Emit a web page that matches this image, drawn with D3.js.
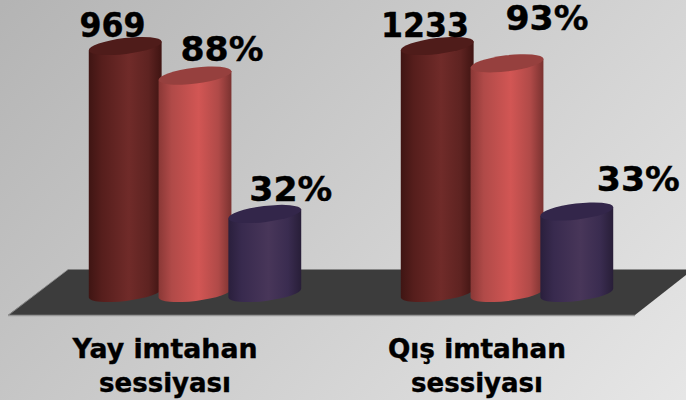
<!DOCTYPE html>
<html><head><meta charset="utf-8">
<script src="https://cdn.jsdelivr.net/npm/d3@7"></script>
<style>html,body{margin:0;padding:0;background:#ccc}svg{display:block}</style>
</head><body><svg id="c" width="686" height="400"></svg>
<script>
const categories = ["Yay imtahan sessiyası", "Qış imtahan sessiyası"];
const categoryLines = [["Yay imtahan", "sessiyası"], ["Qış imtahan", "sessiyası"]];
const seriesNames = ["a", "b", "c"];
const heightsA = [100, 88, 32];
const heightsB = [100, 93, 33];
const labelsA = ["969", "88%", "32%"];
const labelsB = ["1233", "93%", "33%"];
const labelShiftA = [[-12.7, -9.5], [27, -14.5], [26, -13]];
const labelShiftB = [[-12.3, -9.5], [40, -33], [61.5, -20]];
const labelWidthsA = [66, 83, 83];
const labelWidthsB = [88, 83, 83];
const categoryWidths = [[185, 132], [178, 132]];
const stopOffsets = [0, 0.18, 0.55, 0.82, 1];
const bodyStops = [
  ["#3f1513", "#561e1c", "#702b29", "#5e2321", "#3f1412"],
  ["#8a3836", "#b04a48", "#d25654", "#b04a48", "#7a3230"],
  ["#2a1f3c", "#382a4e", "#483659", "#3a2c50", "#281e38"]
];
const capColors = ["#4f1c1a", "#96403e", "#33264a"];

const svg = d3.select("#c");
const W = 686, H = 400;
const defs = svg.append("defs");

const bg = defs.append("linearGradient").attr("id", "bg").attr("gradientUnits", "userSpaceOnUse")
  .attr("x1", 60).attr("y1", -60).attr("x2", 626).attr("y2", 460);
bg.append("stop").attr("offset", 0).attr("stop-color", "#b4b4b4");
bg.append("stop").attr("offset", 1).attr("stop-color", "#e6e6e6");
svg.append("rect").attr("width", W).attr("height", H).attr("fill", "url(#bg)");

seriesNames.forEach((s, i) => {
  const g = defs.append("linearGradient").attr("id", "body" + i);
  stopOffsets.forEach((o, j) => g.append("stop").attr("offset", o).attr("stop-color", bodyStops[i][j]));
});

const x0 = d3.scaleBand().domain(categories).range([39, 663]);
const x1 = d3.scaleBand().domain(seriesNames).range([-104.7, 104.7]);
const y = d3.scaleLinear().domain([0, 100]).range([293, 46]);

// floor
const floor = [[68, 269.5], [693, 269.5], [635, 315], [8, 315]];
svg.append("path").attr("d", d3.line()(floor) + "Z").attr("fill", "#3c3c3c");
svg.append("path").attr("d", d3.line()([[8, 315.5], [635, 315.5]])).attr("stroke", "#969696").attr("stroke-width", 1.6);
svg.append("path").attr("d", d3.line()([[8, 315.5], [68, 269.5]])).attr("stroke", "#969696").attr("stroke-width", 0.8).attr("fill", "none");

const rx = 36.7, ry = 8, rot = -7;
const dx = rx * Math.cos(rot * Math.PI / 180), dy = rx * Math.sin(-rot * Math.PI / 180);
const rows = [heightsA, heightsB];
const labels = [labelsA, labelsB];
const shifts = [labelShiftA, labelShiftB];
const widths = [labelWidthsA, labelWidthsB];

categories.forEach((cat, ci) => {
  const centre = x0(cat) + x0.bandwidth() / 2;
  const group = svg.append("g");
  seriesNames.forEach((s, si) => {
    const cx = centre + x1(s) + x1.bandwidth() / 2;
    const top = y(rows[ci][si]), bot = y(0);
    group.append("path")
      .attr("d", `M${cx - dx},${top + dy}L${cx + dx},${top - dy}L${cx + dx},${bot - dy}A${rx},${ry} ${rot} 0 1 ${cx - dx},${bot + dy}Z`)
      .attr("fill", `url(#body${si})`);
    group.append("ellipse").attr("rx", rx).attr("ry", ry)
      .attr("transform", `translate(${cx},${top}) rotate(${rot})`)
      .attr("fill", capColors[si]);
  });
  seriesNames.forEach((s, si) => {
    const cx = centre + x1(s) + x1.bandwidth() / 2;
    svg.append("text").text(labels[ci][si])
      .attr("x", cx + shifts[ci][si][0]).attr("y", y(rows[ci][si]) + shifts[ci][si][1])
      .attr("text-anchor", "middle").attr("font-family", "DejaVu Sans").attr("font-weight", "bold")
      .attr("font-size", 33).attr("fill", "#000").attr("stroke", "#000").attr("stroke-width", 0.4)
      .attr("textLength", widths[ci][si]).attr("lengthAdjust", "spacingAndGlyphs");
  });
  categoryLines[ci].forEach((line, li) => {
    svg.append("text").text(line)
      .attr("x", centre - 30).attr("y", 358 + li * 33.5)
      .attr("text-anchor", "middle").attr("font-family", "DejaVu Sans").attr("font-weight", "bold")
      .attr("font-size", 26).attr("fill", "#000").attr("stroke", "#000").attr("stroke-width", 0.4)
      .attr("textLength", categoryWidths[ci][li]).attr("lengthAdjust", "spacingAndGlyphs");
  });
});
</script></body></html>
